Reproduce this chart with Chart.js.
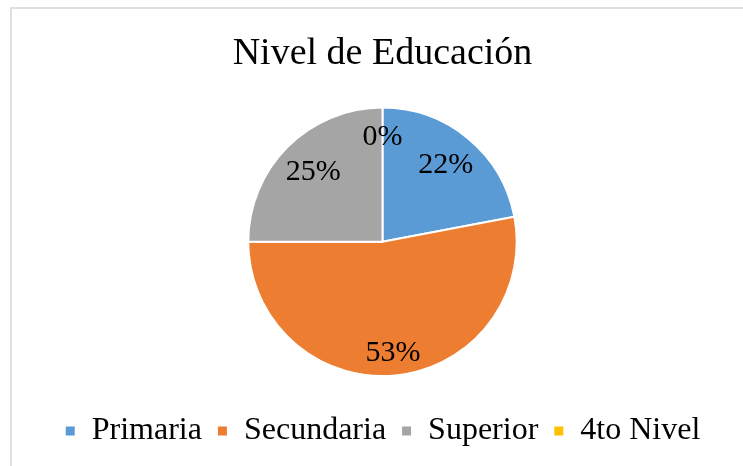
<!DOCTYPE html>
<html>
<head>
<meta charset="utf-8">
<script src="https://cdn.jsdelivr.net/npm/chart.js@4"></script>
<style>
  html, body { margin: 0; padding: 0; background: #fff; overflow: hidden; }
  #frame {
    position: absolute; left: 10px; top: 7px; width: 800px; height: 520px;
    border: 2px solid #e0e0e0; box-sizing: border-box;
  }
  #wrap { position: absolute; left: 0; top: 0; width: 743px; height: 466px; }
</style>
</head>
<body>
<div id="frame"></div>
<div id="wrap"><canvas id="chart" width="743" height="466"></canvas></div>
<script>
const chartTitle = 'Nivel de Educación';
const categories = ['Primaria', 'Secundaria', 'Superior', '4to Nivel'];
const percentages = [22, 53, 25, 0];
const sliceColors = ['#5B9BD5', '#ED7D31', '#A5A5A5', '#FFC000'];

const serif = '"Liberation Serif", "Times New Roman", serif';

// draws the percentage inside each slice, like Excel's data labels
const sliceLabels = {
  id: 'sliceLabels',
  afterDatasetsDraw(chart, args, opts) {
    const ctx = chart.ctx;
    const meta = chart.getDatasetMeta(0);
    ctx.save();
    ctx.font = opts.size + 'px ' + serif;
    ctx.fillStyle = '#000';
    ctx.textAlign = 'center';
    ctx.textBaseline = 'middle';
    meta.data.forEach((arc, i) => {
      const p = arc.getProps(['x', 'y', 'startAngle', 'endAngle', 'outerRadius'], true);
      const mid = (p.startAngle + p.endAngle) / 2;
      const r = p.outerRadius * opts.radius[i];
      ctx.fillText(percentages[i] + '%', p.x + Math.cos(mid) * r, p.y + Math.sin(mid) * r);
    });
    ctx.restore();
  }
};

new Chart(document.getElementById('chart'), {
  type: 'pie',
  data: {
    labels: categories,
    datasets: [{
      data: percentages,
      backgroundColor: sliceColors,
      borderColor: '#fff',
      borderWidth: 2
    }]
  },
  plugins: [sliceLabels],
  options: {
    responsive: false,
    animation: false,
    layout: { padding: { top: 8, left: 22, right: 0, bottom: 9 } },
    plugins: {
      tooltip: { enabled: false },
      title: {
        display: true,
        text: chartTitle,
        color: '#000',
        font: { family: serif, size: 38, weight: 'normal' },
        padding: { top: 23, bottom: 30 }
      },
      legend: {
        position: 'bottom',
        title: { display: true, text: ' ', font: { size: 10 }, padding: 5.5 },
        labels: {
          color: '#000',
          font: { family: serif, size: 32 },
          boxWidth: 11,
          boxHeight: 11,
          padding: 15
        }
      },
      sliceLabels: { size: 30, radius: [0.74, 0.83, 0.73, 0.78] }
    }
  }
});
</script>
</body>
</html>
